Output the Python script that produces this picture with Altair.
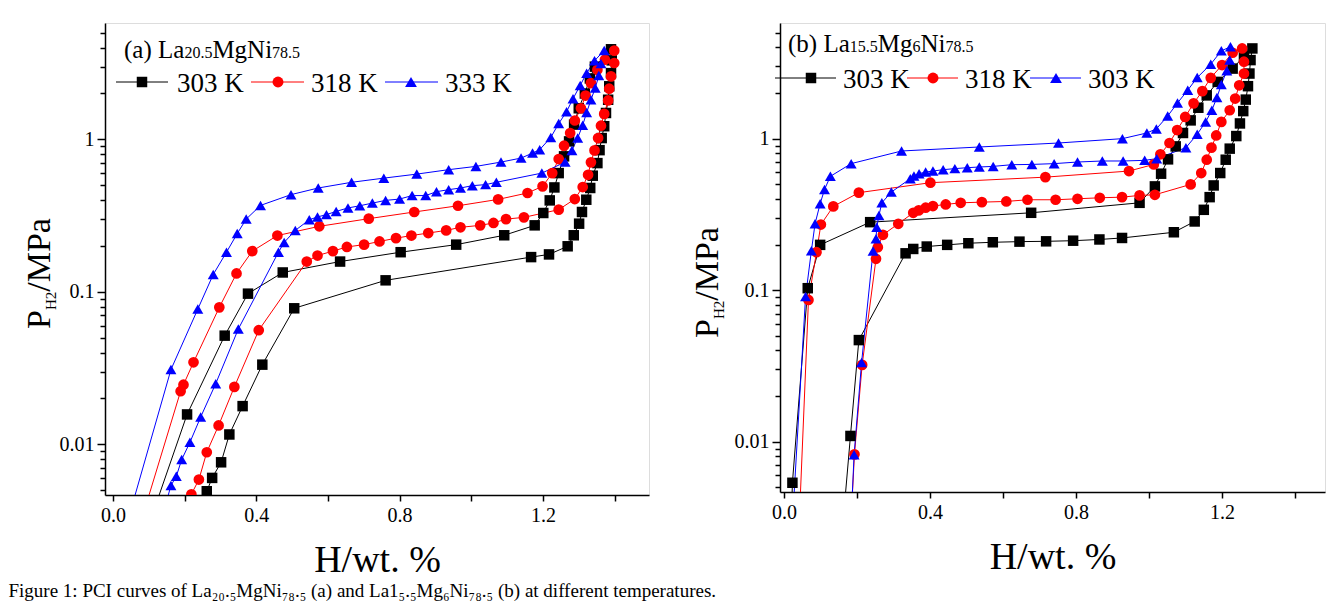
import altair as alt
import pandas as pd

FONT = "Liberation Serif"

SERIES_KEYS = ["s1", "s2", "s3"]
COLORS = ["#000000", "#ff0000", "#0000ff"]
SHAPES = ["square", "circle", "triangle-up"]
SIZES = [110, 120, 140]

# ---------------- panel (a) La20.5MgNi78.5 ----------------
A_LABELS = ["303 K", "318 K", "333 K"]
A303_H = [0.111, 0.207, 0.312, 0.377, 0.474, 0.634, 0.803, 0.958, 1.092, 1.177, 1.201, 1.219, 1.232, 1.244,
          1.259, 1.273, 1.287, 1.300, 1.317, 1.331, 1.345, 1.390, 1.392, 1.390, 1.385, 1.382, 1.376, 1.371,
          1.364, 1.358, 1.352, 1.339, 1.332, 1.321, 1.309, 1.301, 1.286, 1.269, 1.217, 1.167, 0.761, 0.506,
          0.417, 0.362, 0.325, 0.302, 0.277, 0.262, 0.245]
A303_P = [0.0035, 0.0157, 0.0516, 0.0973, 0.134, 0.158, 0.182, 0.204, 0.235, 0.273, 0.329, 0.398, 0.484, 0.601,
          0.774, 0.97, 1.25, 1.60, 2.0, 2.51, 3.0, 3.9, 3.3, 2.72, 2.23, 1.82, 1.49, 1.22,
          1.02, 0.85, 0.699, 0.578, 0.480, 0.402, 0.334, 0.280, 0.235, 0.199, 0.176, 0.169, 0.119, 0.078,
          0.0333, 0.0178, 0.0116, 0.00762, 0.00602, 0.00492, 0.0035]
A318_H = [0.085, 0.189, 0.197, 0.225, 0.297, 0.345, 0.389, 0.459, 0.576, 0.714, 0.841, 0.963, 1.075, 1.157,
          1.199, 1.226, 1.244, 1.259, 1.276, 1.289, 1.306, 1.319, 1.334, 1.352, 1.373, 1.399, 1.399, 1.390,
          1.385, 1.382, 1.371, 1.362, 1.354, 1.344, 1.334, 1.326, 1.311, 1.289, 1.244, 1.147, 1.097, 1.062,
          1.025, 0.970, 0.930, 0.880, 0.833, 0.790, 0.744, 0.701, 0.653, 0.614, 0.571, 0.541, 0.407, 0.339,
          0.295, 0.262, 0.240, 0.219, 0.205]
A318_P = [0.0035, 0.0223, 0.0246, 0.0345, 0.0791, 0.132, 0.185, 0.234, 0.269, 0.302, 0.334, 0.367, 0.404, 0.445,
          0.492, 0.601, 0.743, 0.909, 1.10, 1.33, 1.60, 1.94, 2.34, 2.86, 3.33, 3.82, 3.17, 2.59,
          2.15, 1.80, 1.47, 1.23, 1.02, 0.847, 0.707, 0.586, 0.487, 0.406, 0.346, 0.308, 0.300, 0.283,
          0.273, 0.265, 0.253, 0.243, 0.234, 0.225, 0.214, 0.204, 0.197, 0.185, 0.173, 0.158, 0.056, 0.0238,
          0.0133, 0.00887, 0.00587, 0.0047, 0.0035]
A333_H = [0.047, 0.162, 0.237, 0.280, 0.317, 0.347, 0.372, 0.412, 0.497, 0.573, 0.666, 0.756, 0.848, 0.937,
          1.013, 1.083, 1.139, 1.171, 1.191, 1.222, 1.244, 1.266, 1.284, 1.304, 1.322, 1.344, 1.371, 1.362,
          1.356, 1.346, 1.334, 1.322, 1.311, 1.297, 1.281, 1.262, 1.197, 1.070, 1.040, 1.003, 0.970, 0.937,
          0.903, 0.873, 0.835, 0.800, 0.761, 0.724, 0.689, 0.656, 0.623, 0.596, 0.571, 0.548, 0.509, 0.478,
          0.462, 0.350, 0.287, 0.245, 0.215, 0.192, 0.177, 0.162, 0.140]
A333_P = [0.0035, 0.0309, 0.0771, 0.130, 0.182, 0.241, 0.300, 0.369, 0.434, 0.480, 0.523, 0.557, 0.592, 0.633,
          0.665, 0.710, 0.754, 0.813, 0.856, 1.03, 1.27, 1.52, 1.85, 2.26, 2.72, 3.28, 3.83, 3.14,
          2.62, 2.17, 1.82, 1.50, 1.24, 1.02, 0.847, 0.710, 0.601, 0.523, 0.505, 0.497, 0.480, 0.468,
          0.454, 0.428, 0.428, 0.406, 0.398, 0.382, 0.367, 0.355, 0.337, 0.321, 0.310, 0.297, 0.253, 0.211,
          0.182, 0.057, 0.025, 0.0151, 0.0103, 0.00794, 0.00617, 0.00536, 0.0035]

# ---------------- panel (b) La15.5Mg6Ni78.5 ----------------
B_LABELS = ["303 K", "318 K", "303 K"]
B1_H = [0.020, 0.023, 0.065, 0.099, 0.236, 0.677, 0.974, 1.016, 1.033, 1.052, 1.073, 1.093, 1.114, 1.135,
        1.158, 1.188, 1.229, 1.260, 1.283, 1.278, 1.275, 1.271, 1.265, 1.258, 1.249, 1.239, 1.221, 1.210,
        1.195, 1.177, 1.166, 1.150, 1.125, 1.068, 0.926, 0.864, 0.792, 0.718, 0.645, 0.572, 0.505, 0.447,
        0.391, 0.354, 0.333, 0.205, 0.182, 0.162]
B1_P = [0.003, 0.00535, 0.103, 0.199, 0.281, 0.324, 0.377, 0.484, 0.587, 0.730, 0.889, 1.09, 1.32, 1.60,
        1.93, 2.37, 2.90, 3.50, 3.94, 3.30, 2.69, 2.22, 1.81, 1.52, 1.26, 1.04, 0.859, 0.726,
        0.593, 0.491, 0.411, 0.339, 0.284, 0.241, 0.221, 0.216, 0.212, 0.210, 0.209, 0.207, 0.204, 0.199,
        0.194, 0.187, 0.175, 0.0468, 0.0109, 0.003]
B2_H = [0.043, 0.067, 0.089, 0.101, 0.135, 0.205, 0.401, 0.716, 0.945, 1.013, 1.031, 1.056, 1.077, 1.099,
        1.122, 1.146, 1.169, 1.200, 1.229, 1.255, 1.260, 1.260, 1.247, 1.236, 1.221, 1.198, 1.184, 1.171,
        1.158, 1.143, 1.114, 1.016, 0.974, 0.926, 0.865, 0.804, 0.744, 0.667, 0.609, 0.542, 0.484, 0.443,
        0.408, 0.388, 0.369, 0.354, 0.313, 0.271, 0.257, 0.252, 0.214, 0.193, 0.185]
B2_P = [0.0035, 0.0861, 0.178, 0.271, 0.357, 0.440, 0.512, 0.557, 0.611, 0.676, 0.788, 0.936, 1.14, 1.39,
        1.71, 2.06, 2.52, 3.06, 3.69, 3.94, 3.22, 2.69, 2.25, 1.84, 1.54, 1.29, 1.05, 0.872,
        0.726, 0.593, 0.499, 0.426, 0.422, 0.411, 0.407, 0.401, 0.395, 0.395, 0.385, 0.381, 0.377, 0.368,
        0.359, 0.350, 0.336, 0.324, 0.274, 0.232, 0.192, 0.161, 0.0321, 0.00824, 0.0035]
B3_H = [0.025, 0.059, 0.075, 0.085, 0.099, 0.111, 0.127, 0.184, 0.322, 0.535, 0.752, 0.927, 0.994, 1.020,
        1.051, 1.078, 1.106, 1.132, 1.169, 1.198, 1.223, 1.221, 1.213, 1.198, 1.186, 1.172, 1.155, 1.132,
        1.101, 1.021, 0.988, 0.929, 0.872, 0.804, 0.740, 0.679, 0.624, 0.573, 0.535, 0.502, 0.468, 0.436,
        0.408, 0.388, 0.370, 0.356, 0.346, 0.294, 0.268, 0.260, 0.254, 0.252, 0.244, 0.2125, 0.192, 0.185]
B3_P = [0.0035, 0.0906, 0.182, 0.274, 0.372, 0.462, 0.564, 0.684, 0.829, 0.881, 0.936, 1.0, 1.09, 1.16,
        1.41, 1.72, 2.09, 2.53, 3.10, 3.80, 4.04, 3.30, 2.81, 2.28, 1.87, 1.54, 1.29, 1.07,
        0.872, 0.738, 0.719, 0.712, 0.712, 0.701, 0.684, 0.676, 0.673, 0.656, 0.650, 0.643, 0.634, 0.624,
        0.611, 0.602, 0.587, 0.566, 0.544, 0.444, 0.377, 0.311, 0.260, 0.218, 0.181, 0.0333, 0.0082, 0.0035]

X_TICKS = [0.0, 0.2, 0.4, 0.6, 0.8, 1.0, 1.2, 1.4]
Y_TICKS = [0.005, 0.006, 0.007, 0.008, 0.009,
           0.01, 0.02, 0.03, 0.04, 0.05, 0.06, 0.07, 0.08, 0.09,
           0.1, 0.2, 0.3, 0.4, 0.5, 0.6, 0.7, 0.8, 0.9,
           1, 2, 3, 4, 5]
Y_DOMAIN = [0.00465, 5.8]

CAPTION = ("Figure 1: PCI curves of La\u2082\u2080.\u2085MgNi\u2087\u2088.\u2085 (a) and "
           "La1\u2085.\u2085Mg\u2086Ni\u2087\u2088.\u2085 (b) at different temperatures.")

# Times-compatible advance widths (em) for placing rich text pieces
TIMES = {"(": 0.333, ")": 0.333, " ": 0.25, "a": 0.444, "b": 0.5, "L": 0.611, "M": 0.889, "g": 0.5,
         "N": 0.722, "i": 0.278, ".": 0.25, "P": 0.556, "H": 0.722, "/": 0.278}


def tw(s, size):
    return sum(TIMES.get(c, 0.5) for c in s) * size


DUMMY = pd.DataFrame({"d": [0]})


def txt(s, x, y, size, angle=0):
    kw = dict(text=s, font=FONT, fontSize=size, align="left", baseline="alphabetic", color="black")
    if angle:
        kw["angle"] = angle
    return alt.Chart(DUMMY).mark_text(**kw).encode(x=alt.value(x), y=alt.value(y))


def rich(parts, x, y, big, small):
    layers = []
    for i, p in enumerate(parts):
        size = big if i % 2 == 0 else small
        layers.append(txt(p, x, y, size))
        x += tw(p, size)
    return layers


def ytitle(xb, y0):
    out = [txt("P", xb, y0, 34, 270)]
    y = y0 - tw("P", 34)
    out.append(txt("H2", xb + 6, y, 15, 270))
    y -= tw("H2", 15)
    out.append(txt("/MPa", xb, y, 34, 270))
    return out


def legend(items, yc, labels):
    out = []
    for k, (x0, x1, xm, xt) in enumerate(items):
        out.append(alt.Chart(DUMMY).mark_rule(color=COLORS[k], strokeWidth=1).encode(
            x=alt.value(x0), x2=alt.value(x1), y=alt.value(yc)))
        out.append(alt.Chart(DUMMY).mark_point(filled=True, opacity=1, shape=SHAPES[k], color=COLORS[k],
                                               size=SIZES[k]).encode(x=alt.value(xm), y=alt.value(yc)))
        out.append(txt(labels[k], xt, yc + 10, 27))
    return out


def panel(hs, ps, xdom, width, height, annotations):
    rows = []
    for k, (h, p) in enumerate(zip(hs, ps)):
        for i, (xv, yv) in enumerate(zip(h, p)):
            rows.append({"series": SERIES_KEYS[k], "i": i, "h": xv, "p": yv})
    df = pd.DataFrame(rows)

    xaxis = alt.Axis(values=X_TICKS, title="H/wt. %", titleFont=FONT, titleFontSize=38,
                     titleFontWeight="normal", titleColor="black", titlePadding=16,
                     labelExpr="indexof(['0.0','0.4','0.8','1.2'], format(datum.value,'.1f')) >= 0 ? format(datum.value,'.1f') : ''",
                     labelFont=FONT, labelFontSize=20, labelColor="black", labelPadding=4,
                     labelOverlap=False, labelFlush=False, tickColor="black", tickSize=6, tickWidth=1.5,
                     domainColor="black", domainWidth=1.5, grid=False)
    yaxis = alt.Axis(values=Y_TICKS, title=None,
                     labelExpr="datum.value == 0.01 ? '0.01' : datum.value == 0.1 ? '0.1' : datum.value == 1 ? '1' : ''",
                     labelFont=FONT, labelFontSize=20, labelColor="black", labelPadding=3,
                     labelOverlap=False, labelFlush=False, tickColor="black",
                     tickSize={"condition": {"test": "datum.value == 0.01 || datum.value == 0.1 || datum.value == 1",
                                             "value": 8}, "value": 5},
                     tickWidth=1.5, domainColor="black", domainWidth=1.5, grid=False)
    xenc = alt.X("h:Q", scale=alt.Scale(domain=xdom, nice=False, zero=False), axis=xaxis)
    yenc = alt.Y("p:Q", scale=alt.Scale(type="log", domain=Y_DOMAIN, nice=False), axis=yaxis)
    color = alt.Color("series:N", scale=alt.Scale(domain=SERIES_KEYS, range=COLORS), legend=None)
    shape = alt.Shape("series:N", scale=alt.Scale(domain=SERIES_KEYS, range=SHAPES), legend=None)
    size = alt.Size("series:N", scale=alt.Scale(domain=SERIES_KEYS, range=SIZES), legend=None)

    lines = alt.Chart(df).mark_line(clip=True, strokeWidth=1).encode(
        x=xenc, y=yenc, color=color, detail="series:N", order="i:Q")
    pts = alt.Chart(df).mark_point(filled=True, opacity=1, clip=True).encode(
        x=xenc, y=yenc, color=color, shape=shape, size=size)
    return alt.layer(lines, pts, *annotations).properties(width=width, height=height)


ann_a = (rich(["(a) La", "20.5", "MgNi", "78.5"], 19, 35, 25, 16)
         + legend([(11, 63, 37, 72), (146, 199, 173, 206), (280, 333, 306, 340)], 59, A_LABELS)
         + ytitle(-55, 306))
ann_b = (rich(["(b) La", "15.5", "Mg", "6", "Ni", "78.5"], 8, 29, 25, 16)
         + legend([(-5, 56, 31, 63), (127, 178, 153, 185), (250, 301, 276, 308)], 55, B_LABELS)
         + ytitle(-62, 315))

pa = panel([A303_H, A318_H, A333_H], [A303_P, A318_P, A333_P], [-0.022, 1.496], 544, 472, ann_a)
pb = panel([B1_H, B2_H, B3_H], [B1_P, B2_P, B3_P], [-0.011, 1.482], 545, 469, ann_b)

chart = alt.hconcat(pa, pb, spacing=131, bounds="flush").properties(
    padding={"left": 0, "top": 14, "right": 0, "bottom": 0},
    title=alt.TitleParams(text=CAPTION, orient="bottom", anchor="start", font=FONT, fontSize=19,
                          fontWeight="normal", color="black", offset=2, dx=-14),
).configure_view(stroke="black", strokeWidth=1.5).configure(background="white")

chart.save("out.html", embed_options={"renderer": "svg", "actions": False})
